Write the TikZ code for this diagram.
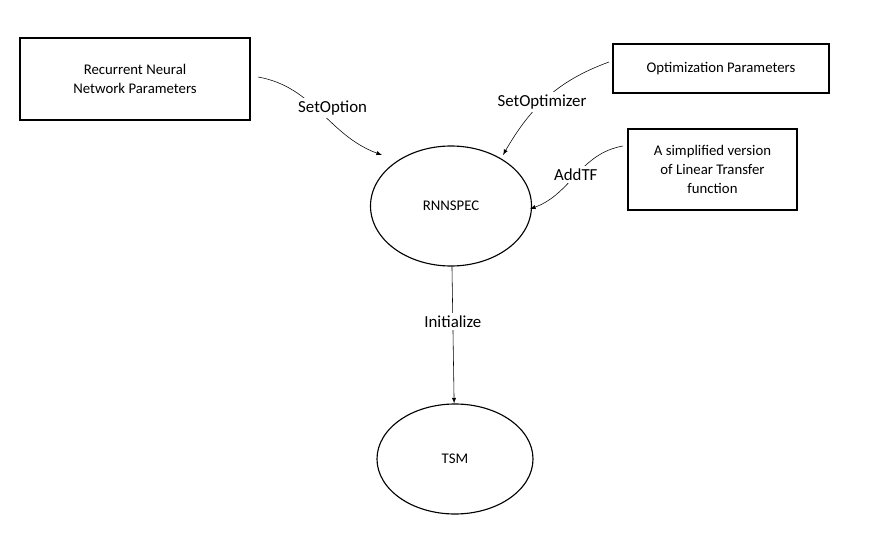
\documentclass[tikz,border=0pt]{standalone}
\usepackage{fontspec}
\setmainfont{Carlito}
\usetikzlibrary{shapes,arrows,positioning}
\begin{document}
\begin{tikzpicture}[x=0.025cm,y=0.025cm,font=\fontsize{10.5}{13.5}\selectfont]
	\tikzstyle{Box}		= [draw, thick, align=center, inner sep=0pt]
	\tikzstyle{State}	= [ellipse, draw, thick, inner sep=0pt]
	\tikzstyle{Label}	= [fill=white, inner sep=2pt, font=\fontsize{12}{14}\selectfont]
	\tikzstyle{Link}	= [->, >=latex]

	\useasboundingbox (0,0) rectangle (880,540);

	\node (params) at (135,461) [Box, minimum width=230*0.025cm, minimum height=82*0.025cm] {Recurrent Neural\\Network Parameters};
	\node (optim) at (721,471.5) [Box, minimum width=216*0.025cm, minimum height=49*0.025cm] {Optimization Parameters};
	\node (linear) at (712.5,370.5) [Box, minimum width=169*0.025cm, minimum height=81*0.025cm] {A simplified version\\of Linear Transfer\\function};
	\node (rnnspec) at (451,334) [State, minimum width=161*0.025cm, minimum height=120*0.025cm] {RNNSPEC};
	\node (tsm) at (455,81) [State, minimum width=156*0.025cm, minimum height=110*0.025cm] {TSM};

	\coordinate (c1) at (258,463);
	\coordinate (c2) at (609,478);
	\coordinate (c3) at (623,394);
	\coordinate (e1) at (382,385);
	\coordinate (e2) at (503,385);
	\coordinate (e3) at (530,331);

	\draw [Link] (c1) to[out=-10, in=160] node[Label, pos=0.45, xshift=12pt] {SetOption} (e1);
	\draw [Link] (c2) to[out=200, in=60] node[Label, pos=0.55] {SetOptimizer} (e2);
	\draw [Link] (c3) to[out=190, in=20] node[Label, pos=0.5] {AddTF} (e3);
	\draw [Link] (rnnspec) to node[Label, pos=0.4] {Initialize} (tsm);
\end{tikzpicture}
\end{document}
